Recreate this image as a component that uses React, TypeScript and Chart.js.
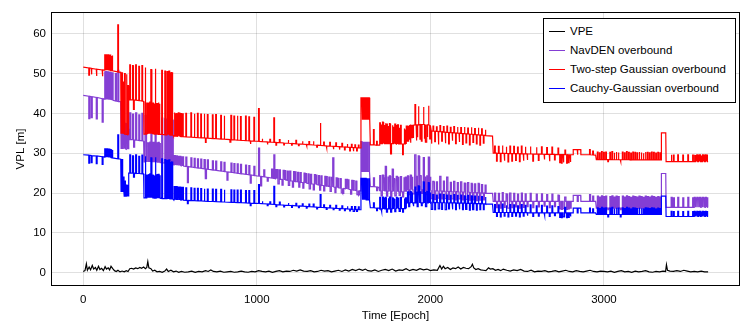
import { useEffect, useRef } from 'react';
import { Chart, registerables } from 'chart.js';

Chart.register(...registerables);

// ---- axis ticks ----
const xTicks = [0, 1000, 2000, 3000];
const yTicks = [0, 10, 20, 30, 40, 50, 60];

// ---- series labels / colours ----
const seriesNames = ['VPE', 'NavDEN overbound', 'Two-step Gaussian overbound', 'Cauchy-Gaussian overbound'];
const seriesColors = ['#000000', 'rgb(132, 62, 212)', '#ff0000', '#0000ff'];

// Entries: [epoch, value] = vertex; [epoch, base, peak] = narrow excursion from base to peak and back.
const vpePath: number[][] = [
  [0, 0.3], [10, 0.5], [18, 2.2], [24, 0.6], [34, 1.4], [42, 0.7], [52, 1.8], [60, 0.9], [70, 1.3], [78, 0.6],
  [88, 1.6], [96, 0.8], [106, 1.1], [116, 0.5], [126, 1.5], [134, 0.9], [144, 1.2], [152, 0.7], [160, 1.6], [170, 1.0],
  [180, 0.5], [190, 0.3], [200, 0.6], [212, 0.2], [224, 0.4], [236, 0.2], [248, 0.5], [258, 0.3], [268, 1.0], [278, 1.1],
  [290, 0.9], [302, 1.2], [314, 1.0], [326, 1.3], [336, 1.1], [348, 1.4], [358, 1.0], [366, 1.3], [372, 2.8], [378, 1.2],
  [390, 1.0], [400, 0.4], [412, 0.6], [425, 0.2], [440, 0.3], [455, 0.1], [470, 0.4], [480, 0.9], [490, 0.3], [505, 0.6],
  [520, 0.2], [535, 0.4], [550, 0.1], [565, 0.3], [585, 0.1], [605, 0.2], [625, 0.4], [645, 0.1], [665, 0.3], [685, 0.2],
  [705, 0.5], [720, 0.3], [735, 0.7], [750, 0.3], [770, 0.2], [790, 0.4], [810, 0.1], [830, 0.2], [850, 0.3], [870, 0.1],
  [890, 0.2], [910, 0.4], [930, 0.2], [950, 0.1], [970, 0.3], [990, 0.2], [1010, 0.5], [1030, 0.3], [1050, 0.2], [1070, 0.4],
  [1090, 0.1], [1110, 0.3], [1130, 0.5], [1150, 0.2], [1170, 0.4], [1190, 0.3], [1210, 0.6], [1230, 0.4], [1250, 0.7], [1270, 0.4],
  [1290, 0.3], [1310, 0.5], [1330, 0.2], [1350, 0.3], [1370, 0.6], [1390, 0.4], [1410, 0.5], [1430, 0.2], [1450, 0.4], [1470, 0.6],
  [1490, 0.3], [1510, 0.7], [1530, 0.4], [1550, 0.8], [1570, 0.5], [1590, 0.9], [1610, 0.6], [1625, 0.9], [1640, 0.5], [1660, 0.4],
  [1680, 0.7], [1700, 0.3], [1720, 0.6], [1740, 0.8], [1760, 0.5], [1780, 0.9], [1800, 0.4], [1820, 0.7], [1840, 0.6], [1860, 1.0],
  [1880, 0.5], [1900, 0.8], [1920, 0.6], [1940, 1.0], [1960, 0.7], [1980, 0.9], [2000, 0.5], [2020, 0.7], [2040, 0.6], [2055, 1.8],
  [2065, 0.9], [2075, 1.6], [2085, 1.0], [2100, 1.3], [2115, 0.8], [2130, 1.2], [2145, 1.0], [2160, 1.4], [2175, 0.9], [2190, 1.3],
  [2205, 1.1], [2220, 1.0], [2235, 1.5], [2242, 2.1], [2250, 1.2], [2262, 0.8], [2275, 1.0], [2290, 0.7], [2305, 0.6], [2320, 0.5],
  [2335, 1.2], [2345, 0.9], [2360, 1.0], [2375, 0.6], [2390, 0.8], [2405, 0.5], [2420, 0.9], [2440, 0.6], [2460, 0.4], [2480, 0.7],
  [2500, 0.5], [2520, 0.8], [2540, 0.4], [2560, 0.3], [2580, 0.6], [2600, 0.2], [2620, 0.4], [2640, 0.3], [2660, 0.5], [2680, 0.2],
  [2700, 0.3], [2720, 0.5], [2740, 0.2], [2760, 0.4], [2780, 0.6], [2800, 0.3], [2820, 0.2], [2840, 0.5], [2860, 0.3], [2880, 0.2],
  [2900, 0.4], [2920, 0.6], [2940, 0.3], [2960, 0.2], [2980, 0.4], [3000, 0.3], [3020, 0.2], [3040, 0.4], [3060, 0.1], [3080, 0.3],
  [3100, 0.5], [3120, 0.2], [3140, 0.3], [3160, 0.1], [3180, 0.4], [3200, 0.2], [3220, 0.3], [3240, 0.5], [3260, 0.2], [3280, 0.1],
  [3300, 0.3], [3320, 0.2], [3340, 0.4], [3355, 0.3], [3360, 2.0], [3366, 0.6], [3380, 0.4], [3400, 0.3], [3420, 0.5], [3440, 0.3],
  [3460, 0.6], [3480, 0.4], [3500, 0.2], [3520, 0.3], [3540, 0.2], [3560, 0.4], [3580, 0.2], [3600, 0.2],
];

const twoStepPath: number[][] = [
  [0, 51.6],
  [32, 51.4, 49.6], [46, 51.3, 49.8], [75, 51.1, 49.4], [109, 50.9, 49.3],
  [124, 50.85, 54.7], [130, 50.8, 54.7], [136, 50.8, 54.6], [142, 50.8, 54.7],
  [148, 50.75, 54.5], [154, 50.7, 54.6], [160, 50.7, 54.4], [166, 50.7, 54.5],
  [199, 50.4, 62.2], [216, 50.3], [218, 35.0],
  [222, 35.0, 50.2], [230, 35.0, 48.0], [238, 34.8, 50.0], [248, 34.7, 49.8], [256, 34.6, 47.0],
  [262, 34.6], [263, 43.4],
  [268, 43.4, 52.2], [284, 43.4, 52.0], [290, 43.3, 41.0], [302, 43.3, 52.2], [320, 43.2, 51.8], [338, 43.1, 52.0],
  [348, 43.0], [350, 34.8],
  [356, 34.8, 51.5], [366, 34.8, 42.6], [372, 34.9, 42.4], [378, 34.9, 42.6], [384, 34.9, 42.8],
  [390, 35.0, 51.0], [396, 34.9, 42.6], [402, 34.9, 42.7], [408, 34.8, 42.5], [414, 34.8, 51.2],
  [420, 34.8, 42.6], [426, 34.8, 42.6], [432, 34.7, 42.7], [438, 34.7, 42.4], [452, 34.7, 50.8],
  [470, 34.6, 50.6], [482, 34.6, 50.5], [488, 34.6, 50.4], [494, 34.6, 50.6], [500, 34.5, 50.3],
  [506, 34.5, 50.4], [512, 34.5, 50.3], [518, 34.5], [520, 34.3],
  [524, 34.28, 40.2], [530, 34.27, 40.0], [536, 34.25, 40.1], [542, 34.24, 39.9], [548, 34.22, 40.1],
  [556, 34.2, 40.0], [564, 34.18, 40.1], [572, 34.15, 39.9], [591, 34.1, 40.0], [620, 34.02, 40.1],
  [639, 33.97, 39.9], [658, 33.92, 40.0], [677, 33.87, 39.8], [696, 33.82, 39.9], [704, 33.8, 32.7],
  [715, 33.77, 39.7], [744, 33.69, 39.6], [763, 33.64, 39.7], [792, 33.56, 39.5], [811, 33.51, 39.4],
  [845, 33.42, 32.8], [851, 33.41, 39.5], [868, 33.36, 39.3], [887, 33.3, 39.4], [906, 33.25, 39.2],
  [935, 33.17, 39.3], [954, 33.12, 39.1], [962, 33.1, 32.3], [983, 33.04, 39.0],
  [1000, 33.0], [1010, 32.97, 41.2], [1030, 32.9, 33.6], [1060, 32.83, 32.2], [1075, 32.8, 33.5],
  [1098, 32.72, 38.9], [1110, 32.7, 32.0], [1130, 32.63, 33.4], [1155, 32.55, 32.1], [1180, 32.5, 33.3],
  [1200, 32.43, 32.0], [1225, 32.35, 33.2], [1240, 32.3, 31.9], [1262, 32.25, 33.0], [1285, 32.18, 31.8],
  [1300, 32.13, 32.9], [1325, 32.05, 33.0], [1345, 32.0, 31.5], [1365, 31.95, 37.6], [1385, 31.9, 32.8],
  [1400, 31.85, 31.3], [1420, 31.8, 32.7], [1440, 31.72, 31.0], [1455, 31.7, 32.6], [1475, 31.63, 30.9],
  [1490, 31.6, 32.5], [1505, 31.55, 30.8], [1520, 31.5, 32.3], [1535, 31.47, 30.6], [1545, 31.45, 32.2],
  [1555, 31.42, 30.5], [1565, 31.4, 32.1], [1575, 31.35, 30.6], [1585, 31.32, 32.0], [1598, 31.3],
  [1600, 43.9], [1606, 43.9, 38.4], [1612, 43.9, 38.4], [1618, 43.9, 38.4], [1624, 43.9, 38.4],
  [1630, 43.9, 38.4], [1636, 43.9, 38.4], [1642, 43.9, 38.4], [1648, 43.9], [1649, 38.4], [1652, 38.4], [1654, 32.1],
  [1672, 32.1, 35.9], [1690, 32.0, 33.0], [1704, 32.0],
  [1708, 32.4, 37.6], [1716, 32.4, 37.2], [1724, 32.4, 37.8], [1732, 32.4, 36.9], [1740, 32.4, 37.5],
  [1748, 32.4, 37.3], [1756, 32.4, 36.8], [1764, 32.4, 37.4], [1772, 32.4, 29.8], [1780, 32.4, 37.0],
  [1788, 32.4, 36.5], [1796, 32.4, 37.3], [1804, 32.3, 36.9], [1812, 32.3, 37.1], [1820, 32.3, 36.4],
  [1828, 32.3, 37.0], [1840, 32.3, 29.6], [1848, 32.3, 36.2], [1856, 32.3, 35.8], [1862, 36.8],
  [1868, 36.8, 33.0], [1876, 36.9, 33.5], [1884, 37.0, 32.6], [1892, 37.0, 33.9], [1900, 37.0, 33.8],
  [1911, 37.1, 42.2], [1918, 37.1, 33.2], [1924, 37.1, 34.0], [1930, 37.1, 41.8], [1940, 37.2, 33.5],
  [1948, 37.2, 33.0], [1959, 37.2, 41.6], [1966, 37.2, 33.8], [1972, 37.2, 32.8], [1980, 37.1, 34.2],
  [1988, 37.1, 41.9], [1996, 37.0, 33.6],
  [2005, 35.58, 32.4], [2015, 35.55, 36.8], [2025, 35.51, 32.9], [2035, 35.47, 36.6], [2045, 35.44, 32.2],
  [2055, 35.4, 36.9], [2065, 35.37, 33.0], [2075, 35.33, 36.7], [2085, 35.29, 32.5], [2095, 35.26, 36.8],
  [2105, 35.22, 32.3], [2115, 35.19, 36.5], [2125, 35.15, 33.1], [2135, 35.11, 36.7], [2145, 35.08, 32.4],
  [2155, 35.04, 36.6], [2165, 35.01, 32.8], [2175, 34.97, 36.4], [2185, 34.93, 32.2], [2195, 34.9, 36.6],
  [2205, 34.86, 32.6], [2215, 34.83, 36.3], [2225, 34.79, 32.1], [2235, 34.75, 36.5], [2245, 34.72, 32.7],
  [2255, 34.68, 36.2], [2265, 34.65, 32.3], [2275, 34.61, 36.4], [2285, 34.57, 32.0], [2295, 34.54, 36.1],
  [2305, 34.5, 32.5], [2315, 34.47, 35.9], [2320, 34.4], [2358, 34.3], [2362, 30.0],
  [2370, 30.0, 31.8], [2381, 30.0, 28.0], [2392, 29.97, 31.7], [2403, 29.96, 27.9], [2414, 29.95, 31.9],
  [2425, 29.94, 28.1], [2436, 29.93, 31.6], [2447, 29.92, 27.8], [2458, 29.91, 31.8], [2469, 29.9, 28.0],
  [2480, 29.89, 31.7], [2491, 29.88, 28.2], [2502, 29.87, 31.5], [2513, 29.86, 27.9], [2524, 29.85, 31.8],
  [2535, 29.84, 28.1], [2546, 29.83, 31.6], [2557, 29.82, 28.3], [2575, 29.8, 31.7], [2590, 29.79, 28.0],
  [2610, 29.77, 31.5], [2622, 29.76, 28.2], [2640, 29.75, 31.6], [2655, 29.73, 28.4], [2670, 29.72, 31.4],
  [2685, 29.7, 28.0], [2700, 29.69, 31.5], [2715, 29.68, 28.3], [2735, 29.66, 31.3], [2745, 29.65, 27.6],
  [2755, 29.64, 27.5], [2765, 29.63, 27.7], [2775, 29.62, 30.8], [2785, 29.61, 27.5], [2795, 29.6, 27.6],
  [2805, 29.6, 27.8],
  [2822, 29.6], [2823, 30.9], [2846, 30.9, 29.6], [2866, 30.9], [2867, 29.6], [2917, 29.6, 30.9],
  [2935, 29.55, 30.5], [2952, 29.5], [2956, 28.4],
  [2962, 28.4, 30.3], [2974, 28.4, 30.1], [2986, 28.4, 30.4], [2998, 28.4, 30.2], [3010, 28.4, 30.3],
  [3022, 28.4, 27.9], [3034, 28.4, 30.2], [3046, 28.4, 30.4], [3058, 28.35, 30.1], [3070, 28.35, 30.3],
  [3082, 28.35, 30.2], [3094, 28.35, 27.9], [3106, 28.35, 30.3], [3118, 28.35, 30.1], [3130, 28.35, 30.4],
  [3142, 28.35, 30.2], [3154, 28.3, 30.0], [3166, 28.3, 30.3], [3178, 28.3, 30.2], [3190, 28.3, 30.1],
  [3202, 28.3, 30.3], [3214, 28.3, 30.2], [3226, 28.3, 30.0], [3238, 28.3, 30.3], [3250, 28.3, 30.2],
  [3262, 28.3, 30.1], [3274, 28.3, 30.3], [3286, 28.3, 30.2], [3298, 28.3, 30.0], [3310, 28.3, 30.2],
  [3322, 28.3, 30.1],
  [3329, 28.3], [3331, 35.1], [3356, 35.1], [3358, 27.9],
  [3387, 27.9, 29.6], [3400, 27.9, 29.5], [3425, 27.9, 29.6], [3454, 27.9, 29.5], [3483, 27.9, 29.6],
  [3511, 27.9, 29.5], [3520, 27.9, 29.6], [3528, 27.9, 29.4], [3536, 27.9, 29.6], [3544, 27.9, 29.5],
  [3552, 27.9, 29.6], [3560, 27.9, 29.4], [3568, 27.9, 29.6], [3576, 27.9, 29.5], [3584, 27.9, 29.6],
  [3592, 27.9, 29.5], [3600, 27.9],
];

const navdenPath: number[][] = [
  [0, 44.5],
  [32, 44.3, 38.7], [46, 44.2, 38.9], [75, 44.0, 38.6], [109, 43.7, 37.8],
  [124, 43.55, 50.4], [130, 43.5, 50.5], [136, 43.5, 50.3], [142, 43.45, 50.4],
  [148, 43.4, 50.2], [154, 43.4, 50.3], [160, 43.35, 50.1], [166, 43.3, 50.2],
  [185, 43.1, 50.0], [199, 43.0, 50.8], [216, 42.9], [218, 31.2],
  [222, 31.2, 37.6], [230, 31.2, 36.0], [238, 31.1, 37.5], [248, 31.0, 37.4], [256, 31.0, 36.0],
  [262, 31.0], [263, 33.4],
  [268, 33.4, 40.1], [284, 33.4, 39.8], [290, 33.3, 31.5], [302, 33.3, 40.1], [320, 33.2, 39.6], [338, 33.1, 40.0],
  [348, 33.0], [350, 27.8],
  [356, 27.8, 39.5], [366, 27.8, 32.6], [372, 27.8, 32.4], [378, 27.8, 32.6], [384, 27.8, 32.8],
  [390, 27.8, 39.0], [396, 27.7, 32.6], [402, 27.7, 32.7], [408, 27.7, 32.5], [414, 27.7, 39.2],
  [420, 27.7, 32.6], [426, 27.6, 32.6], [432, 27.6, 32.7], [438, 27.6, 32.4], [452, 27.6, 38.8],
  [470, 27.5, 38.6], [482, 27.5, 38.5], [488, 27.5, 38.4], [494, 27.4, 38.6], [500, 27.4, 38.3],
  [506, 27.4, 38.4], [512, 27.4, 38.3], [518, 27.3], [520, 27.1],
  [524, 27.07, 29.4], [530, 27.03, 29.3], [536, 27.0, 29.3], [542, 26.96, 29.2], [548, 26.93, 29.2],
  [556, 26.88, 29.2], [564, 26.83, 29.1], [572, 26.79, 29.1], [591, 26.68, 29.0], [600, 26.63, 22.6],
  [620, 26.51, 28.8], [639, 26.4, 28.7], [658, 26.29, 28.6], [677, 26.18, 28.5], [696, 26.07, 28.4],
  [704, 26.03, 23.6], [715, 25.96, 28.3], [744, 25.79, 28.1], [763, 25.68, 28.0], [792, 25.51, 27.8],
  [811, 25.4, 27.7], [828, 25.3, 23.2], [851, 25.18, 27.5], [868, 25.07, 27.4], [887, 24.96, 27.3],
  [906, 24.85, 27.2], [935, 24.68, 27.0], [954, 24.57, 26.9], [962, 24.54, 22.5], [983, 24.4, 26.7],
  [1000, 24.3], [1010, 24.24, 31.3], [1022, 24.16, 21.8], [1040, 24.05, 25.8], [1060, 23.92, 23.0],
  [1085, 23.76, 26.0], [1098, 23.67, 29.6], [1107, 23.6, 25.9], [1115, 23.56, 25.9], [1122, 23.5, 22.3], [1130, 23.47, 25.8], [1145, 23.37, 22.0],
  [1152, 23.33, 25.7], [1160, 23.28, 25.6], [1175, 23.18, 25.5], [1182, 23.13, 21.9], [1190, 23.08, 25.5], [1205, 22.99, 21.5], [1212, 22.94, 25.4], [1220, 22.89, 25.3],
  [1235, 22.8, 25.2], [1242, 22.75, 21.5], [1250, 22.7, 25.1], [1265, 22.6, 21.2], [1272, 22.56, 25.0], [1280, 22.51, 24.9], [1295, 22.41, 24.8],
  [1302, 22.37, 21.0], [1310, 22.32, 24.7], [1325, 22.22, 20.8], [1332, 22.17, 24.6], [1340, 22.12, 24.5], [1355, 22.03, 24.4], [1362, 21.98, 20.7], [1370, 21.93, 24.3],
  [1385, 21.84, 20.5], [1392, 21.79, 24.2], [1400, 21.74, 24.1], [1415, 21.64, 24.0], [1422, 21.6, 20.4], [1430, 21.55, 23.9], [1438, 21.5, 28.8],
  [1450, 21.42, 20.1], [1457, 21.37, 23.8], [1465, 21.32, 23.7], [1480, 21.23, 23.6], [1487, 21.18, 20.0], [1495, 21.13, 19.9], [1510, 21.04, 23.4],
  [1517, 20.99, 23.4], [1525, 20.94, 23.3], [1540, 20.84, 19.7], [1547, 20.8, 23.2], [1555, 20.75, 23.1], [1570, 20.65, 23.0], [1577, 20.6, 19.6], [1585, 20.56, 19.5],
  [1598, 20.5],
  [1600, 32.9], [1606, 32.9, 25.4], [1612, 32.9, 25.4], [1618, 32.9, 25.4], [1624, 32.9, 25.4],
  [1630, 32.9, 25.4], [1636, 32.9, 25.4], [1642, 32.9, 25.4], [1648, 32.9], [1649, 25.4], [1652, 25.4], [1654, 21.6],
  [1672, 21.6, 23.8], [1690, 21.5, 20.6], [1704, 21.4],
  [1708, 20.5, 24.4], [1716, 20.5, 19.3], [1724, 20.5, 24.5], [1732, 20.5, 23.8], [1740, 20.5, 26.7],
  [1748, 20.4, 19.2], [1756, 20.4, 24.0], [1764, 20.4, 24.3], [1772, 20.4, 19.0], [1780, 20.4, 26.0],
  [1788, 20.4, 23.6], [1796, 20.4, 19.3], [1804, 20.4, 24.2], [1812, 20.3, 23.9], [1820, 20.3, 19.4],
  [1828, 20.3, 24.1], [1840, 20.3, 19.0], [1848, 20.3, 23.8], [1856, 20.3, 24.0], [1862, 20.8],
  [1868, 20.8, 24.3], [1876, 20.8, 19.6], [1884, 20.8, 24.5], [1892, 20.8, 23.9], [1900, 20.8, 19.8],
  [1911, 20.8, 29.6], [1918, 20.8, 24.2], [1924, 20.8, 19.7], [1930, 20.8, 29.3], [1940, 20.8, 24.4],
  [1948, 20.8, 19.9], [1959, 20.8, 28.9], [1966, 20.8, 24.0], [1972, 20.7, 19.6], [1980, 20.7, 24.3],
  [1988, 20.7, 29.0], [1996, 20.7, 23.9],
  [2005, 20.59, 18.6], [2015, 20.57, 22.9], [2025, 20.55, 18.4], [2035, 20.53, 22.8], [2045, 20.51, 18.7],
  [2055, 20.49, 24.2], [2065, 20.47, 18.5], [2075, 20.45, 23.0], [2085, 20.43, 18.6], [2095, 20.41, 24.0],
  [2105, 20.39, 18.4], [2115, 20.37, 22.7], [2125, 20.35, 18.5], [2135, 20.33, 22.9], [2145, 20.31, 18.3],
  [2155, 20.29, 22.6], [2165, 20.27, 18.5], [2175, 20.25, 22.8], [2185, 20.23, 18.3], [2195, 20.21, 22.5],
  [2205, 20.19, 18.4], [2215, 20.17, 22.6], [2225, 20.15, 18.2], [2235, 20.13, 22.4], [2245, 20.11, 18.3],
  [2255, 20.09, 22.3], [2265, 20.07, 18.1], [2275, 20.05, 22.4], [2285, 20.03, 18.2], [2295, 20.01, 22.1],
  [2305, 19.99, 18.3], [2315, 19.97, 22.0], [2320, 19.9], [2358, 19.9], [2362, 17.9],
  [2370, 17.9, 20.0], [2381, 17.9, 16.3], [2392, 17.9, 19.9], [2403, 17.9, 16.2], [2414, 17.9, 20.1],
  [2425, 17.9, 16.4], [2436, 17.9, 19.8], [2447, 17.9, 16.2], [2458, 17.9, 20.0], [2469, 17.9, 16.3],
  [2480, 17.9, 19.9], [2491, 17.9, 16.5], [2502, 17.9, 19.7], [2513, 17.9, 16.2], [2524, 17.9, 20.0],
  [2535, 17.9, 16.4], [2546, 17.9, 19.8], [2557, 17.9, 16.6], [2575, 17.9, 19.9], [2590, 17.9, 16.3],
  [2610, 17.9, 19.7], [2622, 17.9, 16.5], [2640, 17.9, 19.8], [2655, 17.9, 16.7], [2670, 17.9, 19.6],
  [2685, 17.9, 16.3], [2700, 17.9, 19.7], [2715, 17.9, 16.6], [2735, 17.9, 19.5], [2745, 17.9, 16.0],
  [2755, 17.9, 15.9], [2765, 17.9, 16.1], [2775, 17.9, 19.0], [2785, 17.9, 15.9], [2795, 17.9, 16.0],
  [2805, 17.9, 16.2],
  [2822, 17.9], [2823, 19.4], [2846, 19.4, 17.9], [2866, 19.4], [2867, 17.9], [2917, 17.9, 19.6],
  [2935, 17.9, 19.2], [2952, 17.9], [2956, 16.2],
  [2962, 16.2, 19.2], [2974, 16.2, 19.0], [2986, 16.2, 19.3], [2998, 16.2, 19.1], [3010, 16.2, 19.2],
  [3022, 16.2, 15.8], [3034, 16.2, 19.1], [3046, 16.2, 19.3], [3058, 16.2, 19.0], [3070, 16.2, 19.2],
  [3082, 16.2, 19.1], [3094, 16.2, 15.8], [3106, 16.2, 19.2], [3118, 16.2, 19.0], [3130, 16.2, 19.3],
  [3142, 16.2, 19.1], [3154, 16.2, 18.9], [3166, 16.2, 19.2], [3178, 16.2, 19.1], [3190, 16.2, 19.0],
  [3202, 16.2, 19.2], [3214, 16.2, 19.1], [3226, 16.2, 18.9], [3238, 16.2, 19.2], [3250, 16.2, 19.1],
  [3262, 16.2, 19.0], [3274, 16.2, 19.2], [3286, 16.2, 19.1], [3298, 16.2, 18.9], [3310, 16.2, 19.1],
  [3322, 16.2, 19.0],
  [3329, 16.2], [3331, 24.9], [3356, 24.9], [3358, 16.4],
  [3387, 16.4, 18.9], [3400, 16.4, 18.8], [3425, 16.4, 18.9], [3454, 16.4, 18.8], [3483, 16.4, 18.9],
  [3511, 16.4, 18.8], [3520, 16.4, 18.9], [3528, 16.4, 18.7], [3536, 16.4, 18.9], [3544, 16.4, 18.8],
  [3552, 16.4, 18.9], [3560, 16.4, 18.7], [3568, 16.4, 18.9], [3576, 16.4, 18.8], [3584, 16.4, 18.9],
  [3592, 16.4, 18.8], [3600, 16.4],
];

const cauchyPath: number[][] = [
  [0, 29.6],
  [32, 29.5, 27.5], [46, 29.4, 27.6], [75, 29.3, 27.4], [109, 29.1, 27.2],
  [124, 29.0, 31.1], [130, 29.0, 31.0], [136, 29.0, 31.1], [142, 28.95, 30.9],
  [148, 28.9, 31.0], [154, 28.9, 30.9], [160, 28.85, 31.0], [166, 28.8, 30.8],
  [199, 28.6, 34.6], [216, 28.5], [218, 20.4],
  [222, 20.4, 28.4], [230, 20.4, 24.0], [234, 20.4], [236, 19.2], [238, 19.2, 23.0], [248, 19.2, 22.0], [256, 19.1, 21.0],
  [262, 19.1], [263, 25.0],
  [268, 25.0, 29.6], [284, 25.0, 29.3], [290, 25.0, 24.0], [302, 24.9, 29.6], [320, 24.9, 29.2], [338, 24.8, 29.5],
  [348, 24.8], [350, 18.8],
  [356, 18.8, 29.2], [366, 18.8, 24.5], [372, 18.8, 24.3], [378, 18.8, 24.6], [384, 18.8, 24.8],
  [390, 18.8, 28.8], [396, 18.8, 24.5], [402, 18.8, 24.6], [408, 18.7, 24.4], [414, 18.7, 29.0],
  [420, 18.7, 24.5], [426, 18.7, 24.6], [432, 18.7, 24.7], [438, 18.7, 24.3], [452, 18.6, 28.6],
  [470, 18.6, 28.4], [482, 18.6, 28.2], [488, 18.5, 28.0], [494, 18.5, 28.3], [500, 18.5, 27.8],
  [506, 18.5, 28.0], [512, 18.5, 27.9], [518, 18.4], [520, 18.3],
  [524, 18.29, 21.6], [530, 18.28, 21.5], [536, 18.27, 21.6], [542, 18.25, 21.4], [548, 18.24, 21.5],
  [556, 18.23, 21.5], [564, 18.21, 21.4], [572, 18.2, 21.4], [591, 18.16, 21.3], [600, 18.14, 17.3],
  [620, 18.11, 21.3], [639, 18.07, 21.2], [658, 18.03, 21.2], [677, 18.0, 21.1], [696, 17.96, 21.1],
  [715, 17.93, 21.0], [744, 17.87, 21.0], [763, 17.83, 20.9], [792, 17.78, 20.9], [811, 17.74, 20.8],
  [851, 17.67, 20.8], [868, 17.64, 20.7], [887, 17.6, 20.7], [906, 17.56, 20.7], [935, 17.51, 20.6],
  [954, 17.47, 20.6], [962, 17.46, 16.8], [983, 17.42, 20.6],
  [1000, 17.4], [1010, 17.37, 22.1], [1030, 17.32, 17.9], [1060, 17.24, 16.8], [1075, 17.2, 17.8],
  [1098, 17.14, 21.7], [1110, 17.1, 16.6], [1130, 17.05, 17.7], [1155, 16.98, 16.5], [1180, 16.91, 17.5],
  [1200, 16.86, 16.4], [1225, 16.79, 17.4], [1240, 16.75, 16.3], [1262, 16.69, 17.3], [1285, 16.63, 16.2],
  [1300, 16.59, 17.2], [1325, 16.52, 17.2], [1345, 16.47, 16.0], [1365, 16.41, 19.6], [1385, 16.36, 17.0],
  [1400, 16.32, 15.9], [1420, 16.27, 16.9], [1440, 16.21, 15.8], [1455, 16.17, 16.9], [1475, 16.12, 15.7],
  [1490, 16.08, 16.8], [1505, 16.04, 15.6], [1520, 16.0, 16.7], [1535, 15.96, 15.5], [1545, 15.93, 16.6],
  [1555, 15.9, 15.4], [1565, 15.88, 16.6], [1575, 15.85, 15.4], [1585, 15.82, 16.5], [1598, 15.8],
  [1600, 23.7], [1606, 23.7, 18.3], [1612, 23.7, 18.3], [1618, 23.7, 18.3], [1624, 23.7, 18.3],
  [1630, 23.7, 18.3], [1636, 23.7, 18.3], [1642, 23.7, 18.3], [1648, 23.7], [1649, 18.3], [1652, 18.3], [1654, 16.3],
  [1672, 16.3, 17.5], [1690, 16.2, 15.6], [1704, 16.2],
  [1708, 16.0, 18.9], [1716, 16.0, 15.3], [1724, 16.0, 19.0], [1732, 16.0, 18.6], [1740, 16.0, 18.9],
  [1748, 16.0, 15.2], [1756, 16.0, 18.7], [1764, 16.0, 19.0], [1772, 16.0, 15.2], [1780, 16.0, 18.8],
  [1788, 16.0, 18.5], [1796, 16.0, 15.3], [1804, 16.1, 18.9], [1812, 16.1, 18.7], [1820, 16.1, 15.4],
  [1828, 16.1, 18.9], [1840, 16.1, 15.2], [1848, 16.1, 18.6], [1856, 16.1, 18.8], [1862, 17.5],
  [1868, 17.5, 20.3], [1876, 17.5, 16.6], [1884, 17.5, 20.4], [1892, 17.5, 20.0], [1900, 17.5, 16.7],
  [1911, 17.5, 21.5], [1918, 17.5, 20.2], [1924, 17.5, 16.6], [1930, 17.5, 21.8], [1940, 17.5, 20.3],
  [1948, 17.5, 16.8], [1959, 17.5, 22.8], [1966, 17.5, 20.1], [1972, 17.5, 16.6], [1980, 17.5, 20.4],
  [1988, 17.5, 22.6], [1996, 17.5, 20.0],
  [2005, 17.6, 15.9], [2015, 17.6, 19.6], [2025, 17.6, 15.8], [2035, 17.6, 19.5], [2045, 17.6, 16.0],
  [2055, 17.55, 19.7], [2065, 17.55, 15.9], [2075, 17.55, 19.6], [2085, 17.55, 15.8], [2095, 17.55, 19.5],
  [2105, 17.5, 16.0], [2115, 17.5, 19.4], [2125, 17.5, 15.9], [2135, 17.5, 19.6], [2145, 17.5, 15.8],
  [2155, 17.45, 19.4], [2165, 17.45, 15.9], [2175, 17.45, 19.5], [2185, 17.45, 15.8], [2195, 17.45, 19.3],
  [2205, 17.4, 15.9], [2215, 17.4, 19.4], [2225, 17.4, 15.7], [2235, 17.4, 19.3], [2245, 17.4, 15.8],
  [2255, 17.35, 19.2], [2265, 17.35, 15.7], [2275, 17.35, 19.3], [2285, 17.35, 15.8], [2295, 17.3, 19.1],
  [2305, 17.3, 15.8], [2315, 17.3, 19.0], [2320, 17.2], [2358, 17.2], [2362, 15.1],
  [2370, 15.1, 17.1], [2381, 15.1, 14.1], [2392, 15.1, 17.0], [2403, 15.1, 14.0], [2414, 15.1, 17.2],
  [2425, 15.1, 14.2], [2436, 15.1, 16.9], [2447, 15.1, 14.0], [2458, 15.1, 17.1], [2469, 15.1, 14.1],
  [2480, 15.05, 17.0], [2491, 15.05, 14.2], [2502, 15.05, 16.8], [2513, 15.05, 14.0], [2524, 15.05, 17.1],
  [2535, 15.05, 14.2], [2546, 15.05, 16.9], [2557, 15.05, 14.3], [2575, 15.0, 17.0], [2590, 15.0, 14.1],
  [2610, 15.0, 16.8], [2622, 15.0, 14.2], [2640, 15.0, 16.9], [2655, 15.0, 14.3], [2670, 15.0, 16.7],
  [2685, 15.0, 14.1], [2700, 15.0, 16.8], [2715, 15.0, 14.3], [2735, 15.0, 16.6], [2745, 15.0, 13.9],
  [2755, 15.0, 13.8], [2765, 15.0, 14.0], [2775, 15.0, 16.4], [2785, 15.0, 13.8], [2795, 15.0, 13.9],
  [2805, 15.0, 14.1],
  [2822, 15.0], [2823, 16.2], [2846, 16.2, 15.0], [2866, 16.2], [2867, 15.0], [2917, 15.0, 16.2],
  [2935, 15.0, 16.0], [2952, 15.0], [2956, 14.6],
  [2962, 14.6, 16.3], [2974, 14.6, 16.1], [2986, 14.6, 16.4], [2998, 14.6, 16.2], [3010, 14.6, 16.3],
  [3022, 14.6, 14.0], [3034, 14.6, 16.2], [3046, 14.6, 16.4], [3058, 14.6, 16.1], [3070, 14.6, 16.3],
  [3082, 14.6, 16.2], [3094, 14.6, 14.0], [3106, 14.6, 16.3], [3118, 14.6, 16.1], [3130, 14.6, 16.4],
  [3142, 14.6, 16.2], [3154, 14.6, 16.0], [3166, 14.6, 16.3], [3178, 14.6, 16.2], [3190, 14.6, 16.1],
  [3202, 14.6, 16.3], [3214, 14.6, 16.2], [3226, 14.6, 16.0], [3238, 14.6, 16.3], [3250, 14.6, 16.2],
  [3262, 14.6, 16.1], [3274, 14.6, 16.3], [3286, 14.6, 16.2], [3298, 14.6, 16.0], [3310, 14.6, 16.2],
  [3322, 14.6, 16.1],
  [3329, 14.6], [3331, 19.2], [3356, 19.2], [3358, 14.1],
  [3387, 14.1, 15.4], [3400, 14.1, 15.3], [3425, 14.1, 15.4], [3454, 14.1, 15.3], [3483, 14.1, 15.4],
  [3511, 14.1, 15.3], [3520, 14.1, 15.4], [3528, 14.1, 15.2], [3536, 14.1, 15.4], [3544, 14.1, 15.3],
  [3552, 14.1, 15.4], [3560, 14.1, 15.2], [3568, 14.1, 15.4], [3576, 14.1, 15.3], [3584, 14.1, 15.4],
  [3592, 14.1, 15.3], [3600, 14.1],
];

function toPoints(path: number[][], w: number) {
  const pts: { x: number; y: number }[] = [];
  for (const e of path) {
    if (e.length === 2) {
      pts.push({ x: e[0], y: e[1] });
    } else {
      const [x, b, t] = e;
      pts.push({ x, y: b }, { x, y: t }, { x: x + w, y: t }, { x: x + w, y: b });
    }
  }
  return pts;
}

const FONT = "'Liberation Sans', Arial, Helvetica, sans-serif";

const framePlugin = {
  id: 'frame',
  afterDraw(chart: any) {
    const { ctx, chartArea } = chart;
    const { left, top, right, bottom } = chartArea;
    ctx.save();
    ctx.strokeStyle = '#000';
    ctx.lineWidth = 1;
    ctx.strokeRect(left - 0.5, top - 0.5, right - left + 1, bottom - top + 1);
    ctx.restore();
  },
};

export default function App() {
  const ref = useRef<HTMLCanvasElement>(null);

  useEffect(() => {
    document.body.style.margin = '0';
    const canvas = ref.current;
    if (!canvas) return;
    const paths = [vpePath, navdenPath, twoStepPath, cauchyPath];
    const widths = [0, 6, 4, 5];
    const orders = [4, 3, 2, 1];
    const chart = new Chart(canvas, {
      type: 'line',
      data: {
        datasets: paths.map((p, i) => ({
          label: seriesNames[i],
          data: toPoints(p, widths[i]),
          borderColor: seriesColors[i],
          backgroundColor: seriesColors[i],
          borderWidth: 1.2,
          pointRadius: 0,
          tension: 0,
          fill: false,
          order: orders[i],
        })),
      },
      options: {
        animation: false,
        responsive: false,
        devicePixelRatio: 1,
        parsing: false,
        normalized: true,
        layout: { padding: { left: 0, top: 13, right: 14, bottom: 0 } },
        plugins: { legend: { display: false }, tooltip: { enabled: false } },
        scales: {
          x: {
            type: 'linear',
            min: -180,
            max: 3778,
            afterBuildTicks: (s: any) => { s.ticks = xTicks.map((v) => ({ value: v })); },
            afterFit: (s: any) => { s.height = 50; },
            ticks: {
              color: '#000', font: { family: FONT, size: 11.5 }, padding: 8, maxRotation: 0, autoSkip: false,
              callback: (v: any) => String(v),
            },
            grid: { color: 'rgba(0,0,0,0.12)', lineWidth: 1, drawTicks: false },
            border: { display: false },
            title: { display: true, text: 'Time [Epoch]', color: '#000', font: { family: FONT, size: 11.5 }, padding: { top: 0, bottom: 12.6 } },
          },
          y: {
            type: 'linear',
            min: -3.1,
            max: 65.2,
            afterBuildTicks: (s: any) => { s.ticks = yTicks.map((v) => ({ value: v })); },
            afterFit: (s: any) => { s.width = 52; },
            ticks: { color: '#000', font: { family: FONT, size: 11.5 }, padding: 6, autoSkip: false, callback: (v: any) => String(v) },
            grid: { color: 'rgba(0,0,0,0.12)', lineWidth: 1, drawTicks: false },
            border: { display: false },
            title: { display: true, text: 'VPL [m]', color: '#000', font: { family: FONT, size: 11.5 }, padding: { top: 13.8, bottom: 0 } },
          },
        },
      },
      plugins: [framePlugin],
    } as any);
    return () => chart.destroy();
  }, []);

  return (
    <div style={{ position: 'relative', width: 753, height: 335, background: '#fff', overflow: 'hidden' }}>
      <canvas ref={ref} width={753} height={335} style={{ display: 'block', width: 753, height: 335 }} />
      <div
        style={{
          position: 'absolute', left: 543, top: 18, width: 193, height: 85, boxSizing: 'border-box',
          border: '1px solid #000', background: '#fff', paddingTop: 3, fontFamily: FONT, fontSize: 11.5, color: '#000',
        }}
      >
        {seriesNames.map((name, i) => (
          <div key={name} style={{ position: 'relative', height: 19, lineHeight: '19px' }}>
            <div style={{ position: 'absolute', left: 5, top: 8.5, width: 16, height: 1.6, background: seriesColors[i] }} />
            <span style={{ position: 'absolute', left: 26, top: 0, whiteSpace: 'nowrap' }}>{name}</span>
          </div>
        ))}
      </div>
    </div>
  );
}
